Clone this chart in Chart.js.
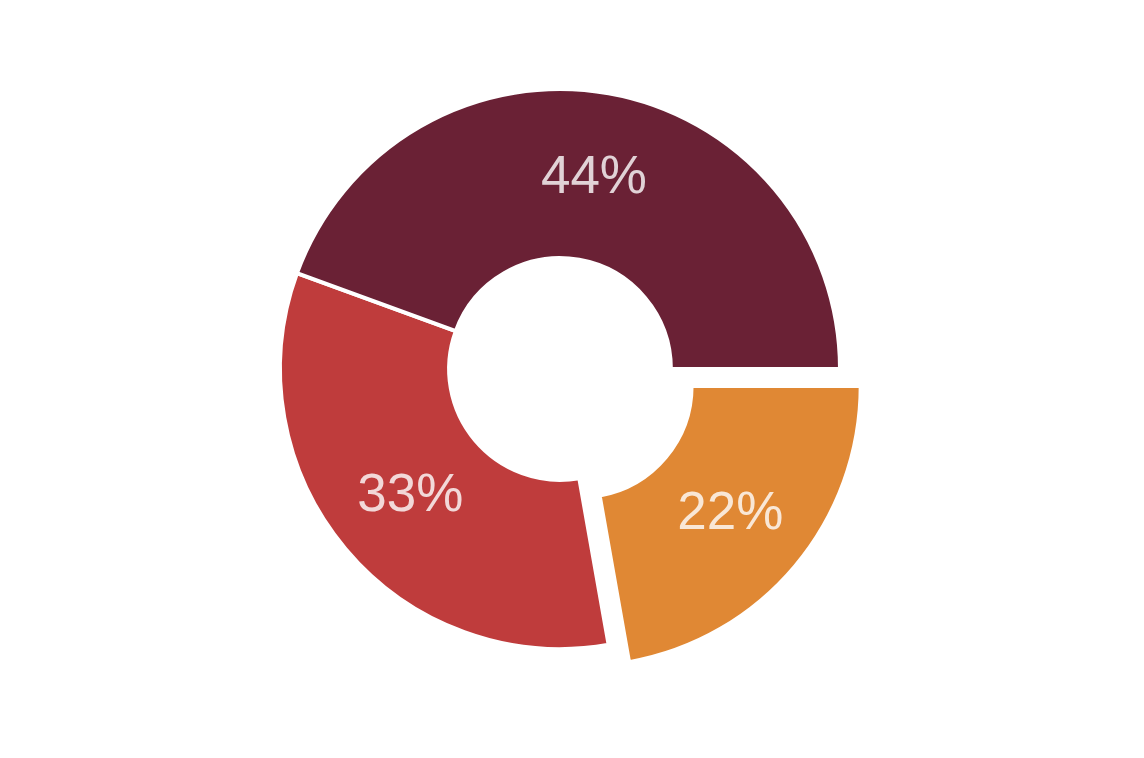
<!DOCTYPE html>
<html>
<head>
<meta charset="utf-8">
<title>Doughnut</title>
<script src="https://cdn.jsdelivr.net/npm/chart.js@4.4.1/dist/chart.umd.min.js"></script>
<style>
  html, body { margin: 0; padding: 0; background: #fff; }
  #wrap { width: 1144px; height: 758px; position: relative; }
</style>
</head>
<body>
<div id="wrap"><canvas id="chart"></canvas></div>
<script>
// slices, listed clockwise starting at 3 o'clock
const labels = ["C", "B", "A"];
const values = [22, 33, 44];
const colors = ["#E08834", "#BF3C3C", "#6A2135"];
const offsets = [106, 0, 0];   // chart.js moves an arc by about offset/4

// percent labels in the middle of each ring segment
const sliceLabels = {
  id: "sliceLabels",
  afterDatasetsDraw(chart) {
    const ctx = chart.ctx;
    const meta = chart.getDatasetMeta(0);
    const total = values.reduce((a, b) => a + b, 0);
    ctx.save();
    ctx.font = "53px 'Liberation Sans', Arial, Helvetica, sans-serif";
    ctx.fillStyle = "rgba(255,255,255,0.8)";
    ctx.textAlign = "center";
    ctx.textBaseline = "middle";
    meta.data.forEach((arc, i) => {
      const p = arc.getProps(["x", "y", "startAngle", "endAngle", "innerRadius", "outerRadius", "circumference"]);
      const mid = (p.startAngle + p.endAngle) / 2;
      const off = (arc.options.offset || 0) / 4;
      const shift = off * (2 - Math.sin(Math.min(Math.PI, p.circumference || 0)));
      const r = (p.innerRadius + p.outerRadius) / 2 + shift;
      const pct = Math.round(values[i] / total * 100) + "%";
      ctx.fillText(pct, p.x + Math.cos(mid) * r, p.y + Math.sin(mid) * r + 2);
    });
    ctx.restore();
  }
};

new Chart(document.getElementById("chart"), {
  type: "doughnut",
  data: {
    labels: labels,
    datasets: [{
      data: values,
      backgroundColor: colors,
      borderColor: "#fff",
      borderWidth: 4,
      offset: offsets,
      hoverOffset: 0
    }]
  },
  options: {
    responsive: true,
    maintainAspectRatio: false,
    animation: false,
    rotation: 90,
    radius: 280,
    cutout: "39.6%",
    layout: { padding: { right: 24, bottom: 20 } },
    plugins: {
      legend: { display: false },
      tooltip: { enabled: false }
    }
  },
  plugins: [sliceLabels]
});
</script>
</body>
</html>
